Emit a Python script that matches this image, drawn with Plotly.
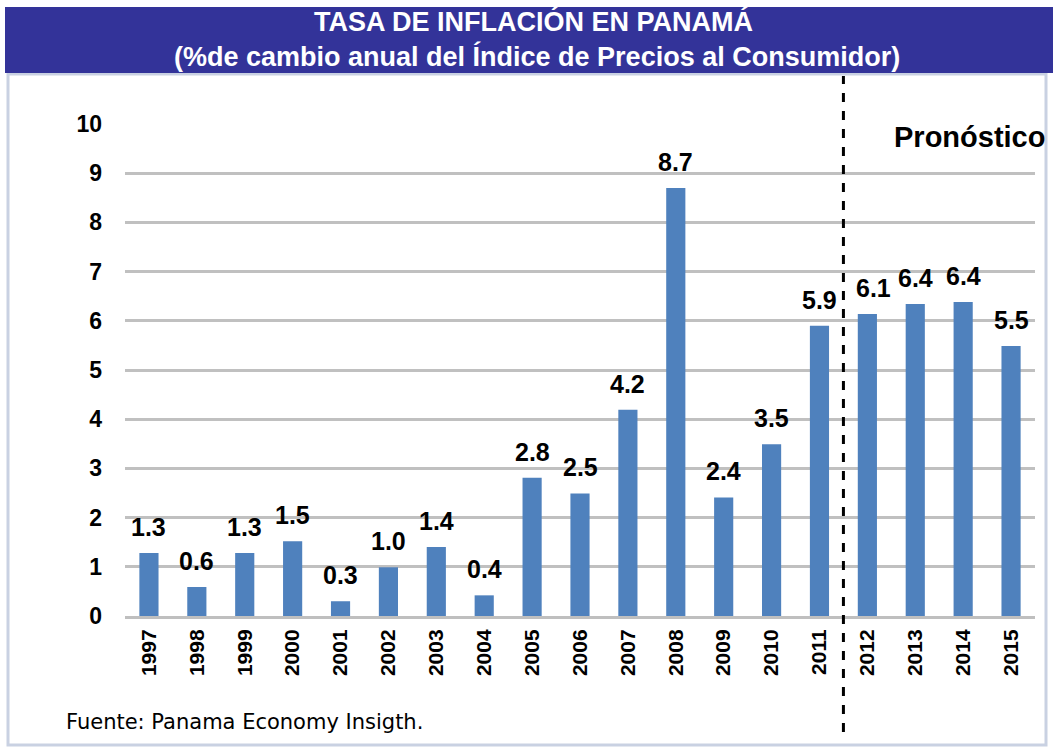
import plotly.graph_objects as go

years = ["1997", "1998", "1999", "2000", "2001", "2002", "2003", "2004", "2005", "2006",
         "2007", "2008", "2009", "2010", "2011", "2012", "2013", "2014", "2015"]
inflation = [1.28, 0.59, 1.28, 1.52, 0.30, 0.99, 1.40, 0.42, 2.81, 2.49,
             4.19, 8.70, 2.41, 3.49, 5.90, 6.14, 6.34, 6.38, 5.49]
labels = ["1.3", "0.6", "1.3", "1.5", "0.3", "1.0", "1.4", "0.4", "2.8", "2.5",
          "4.2", "8.7", "2.4", "3.5", "5.9", "6.1", "6.4", "6.4", "5.5"]
y_ticks = [0, 1, 2, 3, 4, 5, 6, 7, 8, 9, 10]
forecast_start = "2012"

FONT = "Liberation Sans"
W, H = 1053, 747
L, R, T, B = 125, 18, 124, 131
PW, PH = W - L - R, H - T - B


def px(x):
    return (x - L) / PW


def py(y):
    return (H - B - y) / PH


xpos = list(range(len(years)))

fig = go.Figure()
fig.add_trace(go.Bar(
    x=xpos, y=inflation, marker=dict(color="#4f81bd", line=dict(width=0)),
    hoverinfo="skip", showlegend=False, width=0.4,
))

annotations = []
for i, (yr, v, lab) in enumerate(zip(years, inflation, labels)):
    annotations.append(dict(
        x=i, y=v, xref="x", yref="y", text=f"<b>{lab}</b>", showarrow=False,
        yanchor="bottom", yshift=10, xshift=6 if yr == forecast_start else 0,
        font=dict(family=FONT, size=25, color="#000000"),
    ))

annotations.append(dict(
    x=px(533), y=py(21), xref="paper", yref="paper", xanchor="center", yanchor="middle",
    text="<b>TASA DE INFLACIÓN EN PANAMÁ</b>", showarrow=False,
    font=dict(family=FONT, size=27, color="white"),
))
annotations.append(dict(
    x=px(537), y=py(57), xref="paper", yref="paper", xanchor="center", yanchor="middle",
    text="<b>(%de cambio anual del Índice de Precios al Consumidor)</b>", showarrow=False,
    font=dict(family=FONT, size=27, color="white"),
))
annotations.append(dict(
    x=px(1047), y=py(137), xref="paper", yref="paper", xanchor="right", yanchor="middle",
    text="<b>Pronóstico</b>", showarrow=False,
    font=dict(family=FONT, size=29, color="#000000"),
))
annotations.append(dict(
    x=px(64), y=py(722), xref="paper", yref="paper", xanchor="left", yanchor="middle",
    text="Fuente: Panama Economy Insigth.", showarrow=False,
    font=dict(family="DejaVu Sans", size=21, color="#000000"),
))

idx = years.index(forecast_start) - 0.5

shapes = [
    dict(type="rect", xref="paper", yref="paper",
         x0=px(8), x1=px(1046), y0=py(745), y1=py(74),
         line=dict(color="#c9d1e2", width=3), fillcolor="rgba(0,0,0,0)", layer="below"),
    dict(type="rect", xref="paper", yref="paper",
         x0=px(5), x1=px(1053), y0=py(73), y1=py(7),
         line=dict(width=0), fillcolor="#333399", layer="below"),
    dict(type="line", xref="x", yref="paper", x0=idx, x1=idx,
         y0=py(732), y1=py(76),
         line=dict(color="#000000", width=3, dash="dash")),
]

fig.update_layout(
    width=W, height=H,
    margin=dict(l=L, r=R, t=T, b=B),
    paper_bgcolor="white", plot_bgcolor="white",
    annotations=annotations, shapes=shapes,
    xaxis=dict(
        range=[-0.5, len(years) - 0.5], tickvals=xpos,
        ticktext=[f"<b>{y}</b>" for y in years], tickangle=-90, showgrid=False,
        zeroline=False, showline=True, linecolor="#bfbfbf", linewidth=3,
        ticks="", tickfont=dict(family=FONT, size=21, color="#000000"),
        ticklabelstandoff=2,
    ),
    yaxis=dict(
        range=[0, 10], tickvals=y_ticks,
        ticktext=[f"<b>{t}</b>" for t in y_ticks],
        showgrid=True, gridcolor="#c0c0c0", gridwidth=3,
        zeroline=False, showline=False, ticks="",
        tickfont=dict(family=FONT, size=23, color="#000000"),
        ticklabelstandoff=22,
    ),
)

fig.write_html("out.html", config={"displayModeBar": False},
               post_script="document.body.style.margin='0';")
